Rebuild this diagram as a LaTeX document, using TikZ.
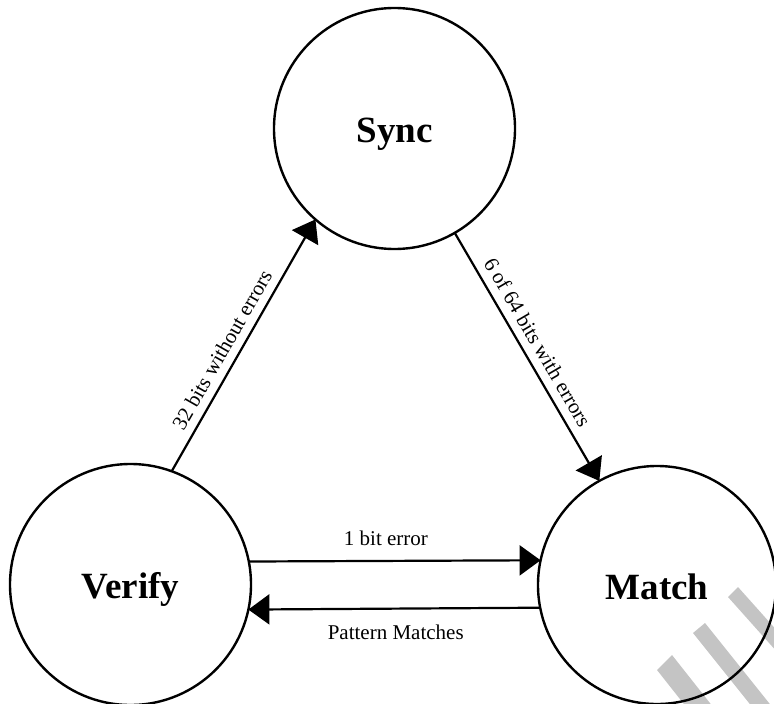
\documentclass[tikz,border=0pt]{standalone}
\usepackage{fontspec}
\setmainfont{Liberation Serif}
\usetikzlibrary{arrows.meta}
\definecolor{wmgray}{RGB}{196,196,196}
\begin{document}
\begin{tikzpicture}[x=1pt,y=-1pt,
  state/.style={circle, draw, line width=2.4pt, minimum size=241pt, inner sep=0pt, outer sep=0pt,
    font=\fontsize{37}{40}\selectfont\bfseries, text height=28pt, text depth=0pt},
  trans/.style={line width=2.2pt, -{Triangle[length=21pt,width=30pt]}},
  lbl/.style={font=\fontsize{21}{24}\selectfont, inner sep=0pt},
  wm/.style={fill=wmgray, draw=none}]
\useasboundingbox (0,0) rectangle (774,704);
% watermark strips
\fill[wm] (728,597) -- (738,587) -- ++(100,112) -- ++(-10,10) -- cycle;
\fill[wm] (693,633) -- (705,623) -- ++(80,100) -- ++(-12,10) -- cycle;
\fill[wm] (657,670) -- (672,655) -- ++(60,76) -- ++(-15,15) -- cycle;
% states
\node[state] (sync)   at (394.5,128.5) {Sync};
\node[state] (verify) at (130.5,584.5) {Verify};
\node[state, minimum size=238pt] (match)  at (657,585) {Match};
% transitions
\draw[trans] (verify.70.8) -- node[lbl, pos=0.45, sloped, above=8pt] {32 bits without errors} (sync.229.8);
\draw[trans] (sync.300) -- node[lbl, pos=0.475, sloped, above=8pt] {6 of 64 bits with errors} (match.119.4);
\draw[trans] (verify.11.2) -- node[lbl, pos=0.47, above=14pt] {1 bit error} (match.168.4);
\draw[trans] (match.191.9) -- node[lbl, pos=0.495, below=15pt] {Pattern Matches} (verify.348.3);
\end{tikzpicture}
\end{document}
